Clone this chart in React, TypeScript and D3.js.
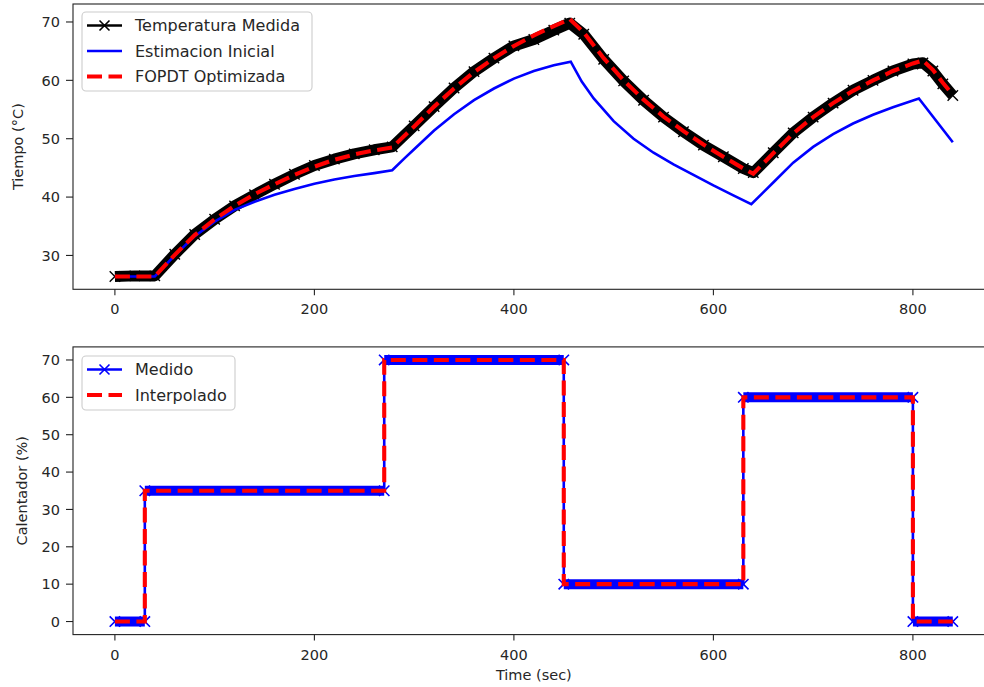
import { useEffect, useRef } from "react";
import * as d3 from "d3";

// top panel: temperature (°C) vs time (s)
const tempTime = [0, 20, 40, 60, 80, 100, 120, 140, 160, 180, 200, 220, 240, 260, 278, 300, 320, 340, 360, 380, 400, 420, 440, 456, 470, 490, 510, 530, 550, 570, 590, 610, 630, 640, 660, 680, 700, 720, 740, 760, 780, 800, 810, 820, 830, 840];
const tempMeasured = [
  26.4, 26.5, 26.5, 30.2, 33.6, 36.2, 38.5, 40.4, 42.2, 43.9, 45.4, 46.5, 47.4, 48.1, 48.6,
  52.2, 55.5, 58.7, 61.5, 63.8, 65.9, 67.0, 68.6, 69.8,
  67.9, 63.6, 59.9, 56.6, 53.7, 51.2, 48.9, 46.9, 44.9, 44.2,
  47.6, 51.0, 53.7, 56.1, 58.3, 60.0, 61.6, 62.8, 63.0, 61.6, 59.4, 57.4,
];
const tempFopdt = [
  26.4, 26.4, 26.4, 30.1, 33.5, 36.2, 38.5, 40.5, 42.2, 43.8, 45.2, 46.4, 47.3, 48.0, 48.5,
  52.1, 55.5, 58.6, 61.4, 63.8, 65.9, 67.7, 69.3, 70.5,
  68.2, 63.8, 60.0, 56.7, 53.8, 51.3, 49.0, 46.9, 44.9, 44.0,
  47.5, 50.9, 53.7, 56.1, 58.2, 60.0, 61.6, 62.9, 63.4, 61.8, 59.6, 57.5,
];
const estTime = [0, 40, 60, 80, 100, 120, 140, 160, 180, 200, 220, 240, 260, 278, 290, 300, 320, 340, 360, 380, 400, 420, 440, 457, 468, 480, 500, 520, 540, 560, 580, 600, 620, 638, 650, 660, 680, 700, 720, 740, 760, 780, 806, 840];
const estInitial = [
  26.4, 26.4, 30.0, 33.3, 35.8, 37.8, 39.2, 40.4, 41.4, 42.3, 43.0, 43.6, 44.1, 44.6,
  46.6, 48.2, 51.4, 54.2, 56.6, 58.6, 60.3, 61.6, 62.6, 63.2,
  59.8, 56.9, 53.0, 50.0, 47.6, 45.6, 43.8, 42.0, 40.3, 38.8,
  40.8, 42.5, 45.9, 48.6, 50.8, 52.6, 54.1, 55.4, 56.9, 49.4,
];

// bottom panel: heater (%) steps
const heaterTime = [0, 30, 270, 450, 630, 800, 840];
const heaterMeasured = [0, 35, 70, 10, 60, 0, 0];
const heaterInterp = [0, 35, 70, 10, 60, 0, 0];

const timeTicks = [0, 200, 400, 600, 800];
const tempTicks = [30, 40, 50, 60, 70];
const heaterTicks = [0, 10, 20, 30, 40, 50, 60, 70];

const W = 984;
const H = 687;
const FONT = "DejaVu Sans, sans-serif";
const TXT = "#262626";

const xMark = (s: number) => `M${-s},${-s}L${s},${s}M${-s},${s}L${s},${-s}`;

export default function App() {
  const ref = useRef<SVGSVGElement>(null);

  useEffect(() => {
    document.body.style.margin = "0";
    const svg = d3.select(ref.current);
    svg.selectAll("*").remove();

    const x = d3.scaleLinear().domain([-42, 882]).range([73, 994.7]);
    const yT = d3.scaleLinear().domain([24.2, 73.08]).range([289.3, 4]);
    const yH = d3.scaleLinear().domain([-3.5, 73.5]).range([634.6, 346.9]);

    const drawAxes = (y: d3.ScaleLinear<number, number>, ticks: number[], label: string, labelX: number) => {
      const [b, t] = y.range();
      const g = svg.append("g");
      g.append("rect").attr("x", 73).attr("y", t).attr("width", 921.7).attr("height", b - t)
        .attr("fill", "none").attr("stroke", "#222").attr("stroke-width", 1.1);
      ticks.forEach((v) => {
        g.append("line").attr("x1", 66).attr("x2", 73).attr("y1", y(v)).attr("y2", y(v)).attr("stroke", "#222").attr("stroke-width", 1.1);
        g.append("text").attr("x", 60).attr("y", y(v)).attr("dy", "0.36em").attr("text-anchor", "end")
          .attr("font-family", FONT).attr("font-size", 14.5).attr("fill", TXT).text(v);
      });
      timeTicks.forEach((v) => {
        g.append("line").attr("x1", x(v)).attr("x2", x(v)).attr("y1", b).attr("y2", b + 6).attr("stroke", "#222").attr("stroke-width", 1.1);
        g.append("text").attr("x", x(v)).attr("y", b + 25).attr("text-anchor", "middle")
          .attr("font-family", FONT).attr("font-size", 14.5).attr("fill", TXT).text(v);
      });
      g.append("text").attr("transform", `translate(${labelX},${(b + t) / 2}) rotate(-90)`).attr("text-anchor", "middle")
        .attr("font-family", FONT).attr("font-size", 14.5).attr("fill", TXT).text(label);
    };

    drawAxes(yT, tempTicks, "Tiempo (°C)", 23);
    drawAxes(yH, heaterTicks, "Calentador (%)", 27);
    svg.append("text").attr("x", x(420)).attr("y", 680).attr("text-anchor", "middle")
      .attr("font-family", FONT).attr("font-size", 14.5).attr("fill", TXT).text("Time (sec)");

    // top panel
    const top = svg.append("g");
    const line = d3.line<[number, number]>().x((d) => x(d[0])).y((d) => yT(d[1]));
    const meas = tempTime.map((t, i) => [t, tempMeasured[i]] as [number, number]);
    top.append("path").attr("d", line(meas)).attr("fill", "none").attr("stroke", "#000").attr("stroke-width", 11).attr("stroke-linejoin", "round");
    top.selectAll(".mk").data(meas).join("path").attr("d", xMark(5.2))
      .attr("transform", (d) => `translate(${x(d[0])},${yT(d[1])})`).attr("stroke", "#000").attr("stroke-width", 1.4);
    top.append("path").attr("d", line(estTime.map((t, i) => [t, estInitial[i]] as [number, number])))
      .attr("fill", "none").attr("stroke", "#0000ff").attr("stroke-width", 2.6);
    top.append("path").attr("d", line(tempTime.map((t, i) => [t, tempFopdt[i]] as [number, number])))
      .attr("fill", "none").attr("stroke", "#ff0000").attr("stroke-width", 4.1).attr("stroke-dasharray", "15,6.5");

    // bottom panel
    const bot = svg.append("g");
    const step = d3.line<[number, number]>().x((d) => x(d[0])).y((d) => yH(d[1])).curve(d3.curveStepAfter);
    const hm = heaterTime.map((t, i) => [t, heaterMeasured[i]] as [number, number]);
    hm.slice(0, -1).forEach((d, i) => {
      const t1 = heaterTime[i + 1];
      bot.append("line").attr("x1", x(d[0])).attr("x2", x(t1)).attr("y1", yH(d[1])).attr("y2", yH(d[1]))
        .attr("stroke", "#0000ff").attr("stroke-width", 10);
      [d[0], t1].forEach((t) => {
        bot.append("path").attr("d", xMark(5.2)).attr("transform", `translate(${x(t)},${yH(d[1])})`)
          .attr("stroke", "#0000ff").attr("stroke-width", 1.6);
      });
    });
    bot.append("path").attr("d", step(hm)).attr("fill", "none").attr("stroke", "#0000ff").attr("stroke-width", 2.6);
    bot.append("path").attr("d", step(heaterTime.map((t, i) => [t, heaterInterp[i]] as [number, number])))
      .attr("fill", "none").attr("stroke", "#ff0000").attr("stroke-width", 4.1).attr("stroke-dasharray", "15,6.5");

    // legends
    const legend = (lx: number, ly: number, w: number, h: number, rows: { label: string; color: string; dash?: boolean; marker?: boolean }[]) => {
      const g = svg.append("g");
      g.append("rect").attr("x", lx).attr("y", ly).attr("width", w).attr("height", h).attr("rx", 4)
        .attr("fill", "#fff").attr("fill-opacity", 0.8).attr("stroke", "#cccccc").attr("stroke-width", 1.1);
      rows.forEach((r, i) => {
        const cy = ly + 13.5 + i * 25.5;
        g.append("line").attr("x1", lx + 5).attr("x2", lx + 40).attr("y1", cy).attr("y2", cy)
          .attr("stroke", r.color).attr("stroke-width", r.dash ? 4.1 : 2.6).attr("stroke-dasharray", r.dash ? "15,6.5" : null);
        if (r.marker) g.append("path").attr("d", xMark(5)).attr("transform", `translate(${lx + 22.5},${cy})`).attr("stroke", r.color).attr("stroke-width", 1.6);
        g.append("text").attr("x", lx + 53).attr("y", cy).attr("dy", "0.36em").attr("font-family", FONT)
          .attr("font-size", 16).attr("fill", TXT).text(r.label);
      });
    };
    legend(82, 12, 230, 79, [
      { label: "Temperatura Medida", color: "#000", marker: true },
      { label: "Estimacion Inicial", color: "#0000ff" },
      { label: "FOPDT Optimizada", color: "#ff0000", dash: true },
    ]);
    legend(82, 356, 153, 54, [
      { label: "Medido", color: "#0000ff", marker: true },
      { label: "Interpolado", color: "#ff0000", dash: true },
    ]);
  }, []);

  return <svg ref={ref} width={W} height={H} style={{ display: "block", background: "#fff" }} />;
}
